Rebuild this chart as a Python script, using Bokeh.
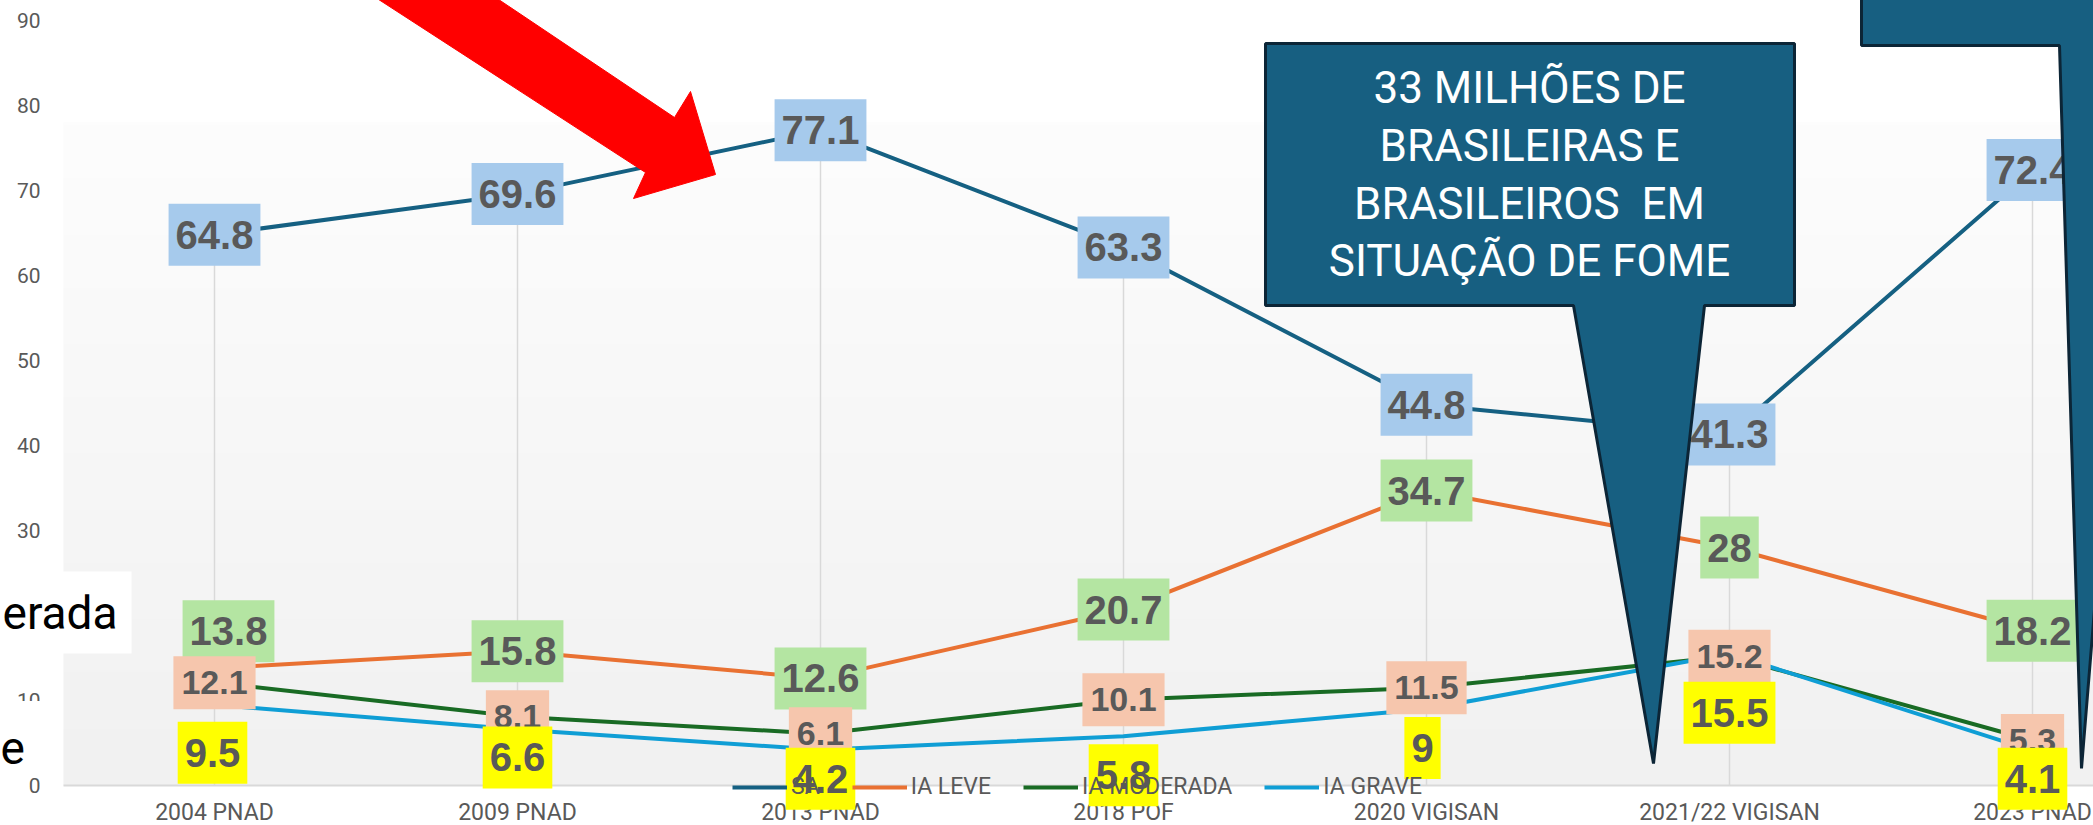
import numpy as np
from bokeh.plotting import figure, ColumnDataSource
from bokeh.models import Range1d
from bokeh.core.properties import value
from bokeh.embed import file_html
from bokeh.resources import INLINE

# ---------------- data ----------------
categories = ["2004 PNAD", "2009 PNAD", "2013 PNAD", "2018 POF",
              "2020 VIGISAN", "2021/22 VIGISAN", "2023 PNAD"]
sa = [64.8, 69.6, 77.1, 63.3, 44.8, 41.3, 72.4]
ia_leve = [13.8, 15.8, 12.6, 20.7, 34.7, 28, 18.2]
ia_moderada = [12.1, 8.1, 6.1, 10.1, 11.5, 15.2, 5.3]
ia_grave = [9.5, 6.6, 4.2, 5.8, 9, 15.5, 4.1]
y_ticks = [0, 10, 20, 30, 40, 50, 60, 70, 80, 90]
series_names = ["SA", "IA LEVE", "IA MODERADA", "IA GRAVE"]
callout_lines = ["33 MILHÕES DE", "BRASILEIRAS E", "BRASILEIROS\u00a0\u00a0EM", "SITUAÇÃO DE FOME"]

# label nudges (screen px) as placed in the original slide
leve_dx = [14, 0, 0, 0, 0, 0, 0]
leve_dy = [-37, 0, 0, 0, 0, 0, 0]
grave_dx = [-2, 0, 0, 0, -4, 0, 0]
grave_dy = [48, 28, 29, 39, 39, 59, 28]

# ---------------- styling ----------------
C_SA, C_LEVE, C_MOD, C_GRAVE = "#156082", "#E97132", "#196B24", "#0F9ED5"
B_SA, B_LEVE, B_MOD, B_GRAVE = "#A6CAEC", "#B4E5A2", "#F6C6AD", "#FFFF00"
TXT = "#595959"
FONT = "Roboto"

W, H = 2093, 825

# page pixel -> data helpers (for decorations only)
def dx(xf):
    return (xf - 214) / 303.0

def dy(yf):
    return (785 - yf) / 8.5

p = figure(width=W, height=H, output_backend="svg", toolbar_location=None,
           x_range=Range1d(dx(0), dx(W)), y_range=Range1d(dy(H), dy(0)),
           x_axis_location=None, y_axis_location=None, min_border=0,
           outline_line_color=None, background_fill_color="white",
           border_fill_color="white")
p.grid.visible = False

# plot-area gradient background
n = 200
t = np.linspace(0, 1, n)[:, None]
top = np.array([253, 253, 253]); bot = np.array([241, 241, 241])
rgb = (bot + (top - bot) * t).astype(np.uint8)  # row 0 = bottom
img = np.empty((n, 1), dtype=np.uint32)
view = img.view(dtype=np.uint8).reshape((n, 1, 4))
view[:, 0, 0] = rgb[:, 0]; view[:, 0, 1] = rgb[:, 1]; view[:, 0, 2] = rgb[:, 2]; view[:, 0, 3] = 255
p.image_rgba(image=[img], x=dx(63), y=0, dw=dx(2120) - dx(63), dh=dy(122), level="image")

idx = list(range(len(categories)))

# value axis tick labels (drawn through the y scale)
p.text(x=[dx(40)] * len(y_ticks), y=y_ticks, text=[str(v) for v in y_ticks],
       text_font=value(FONT), text_font_size="21px", text_color=TXT,
       text_align="right", text_baseline="middle")

# category axis line
p.segment(x0=[dx(63)], y0=[0], x1=[dx(2120)], y1=[0], line_color="#D9D9D9", line_width=2)

# drop lines
p.segment(x0=idx, y0=[0] * len(idx), x1=idx, y1=sa, line_color="#D9D9D9", line_width=1.5)

# series lines
p.line(idx, sa, line_color=C_SA, line_width=4, legend_label=series_names[0])
p.line(idx, ia_leve, line_color=C_LEVE, line_width=4, legend_label=series_names[1])
p.line(idx, ia_moderada, line_color=C_MOD, line_width=4, legend_label=series_names[2])
p.line(idx, ia_grave, line_color=C_GRAVE, line_width=4, legend_label=series_names[3])

lg = p.legend[0]
lg.orientation = "horizontal"
lg.location = (732, 25)
lg.background_fill_alpha = 0
lg.border_line_color = None
lg.padding = 0
lg.margin = 0
lg.spacing = 32
lg.label_standoff = 4
lg.glyph_width = 55
lg.glyph_height = 24
lg.label_height = 24
lg.label_text_font = FONT
lg.label_text_font_size = "23px"
lg.label_text_color = TXT

def fmt(v):
    return f"{v:g}"

def labels(vals, fill, size, pad, xo=None, yo=None):
    src = ColumnDataSource(dict(x=idx, y=vals, t=[fmt(v) for v in vals],
                                xo=xo or [0] * len(vals), yo=yo or [0] * len(vals)))
    p.text(x="x", y="y", text="t", source=src, x_offset="xo", y_offset="yo",
           text_font=value("Liberation Sans"), text_font_style="bold",
           text_font_size=size, text_color=TXT, text_align="center",
           text_baseline="middle", background_fill_color=fill,
           padding=pad, level="overlay")

P_MAIN = dict(left=7, right=7, top=17, bottom=17)
P_MOD = dict(left=8, right=8, top=15, bottom=15)
labels(sa, B_SA, "40px", P_MAIN)
labels(ia_leve, B_LEVE, "40px", P_MAIN, leve_dx, leve_dy)
labels(ia_moderada, B_MOD, "34px", P_MOD)
labels(ia_grave, B_GRAVE, "40px", P_MAIN, grave_dx, grave_dy)

# category labels (through the x scale)
p.text(x=idx, y=[dy(812)] * len(idx), text=categories, text_font=value(FONT),
       text_font_size="23px", text_color=TXT, text_align="center", text_baseline="middle")

# red arrow
arrow = [(318, -40), (645, 172), (633, 198), (715, 174), (690, 91), (674, 117), (440, -40)]
p.patch([dx(a) for a, b in arrow], [dy(b) for a, b in arrow], fill_color="#FF0000",
        line_color="#FF0000", line_width=1, level="overlay")

# callouts
c1 = [(1265, 43), (1794, 43), (1794, 305), (1704, 305), (1653, 763), (1573, 305), (1265, 305)]
c2 = [(1861, -30), (2200, -30), (2200, 45), (2140, 45), (2081, 768), (2059, 45), (1861, 45)]
for c in (c1, c2):
    p.patch([dx(a) for a, b in c], [dy(b) for a, b in c], fill_color="#175F81",
            line_color="#0C2536", line_width=3, level="overlay")

p.text(x=[dx(1529)] * 4, y=[dy(87), dy(145), dy(203), dy(260)], text=callout_lines,
       text_font=value(FONT), text_font_size="44px", text_color="white",
       text_align="center", text_baseline="middle", level="overlay")

# cut-off slide texts at the left edge
p.text(x=[dx(1)], y=[dy(612)], text=["erada"], text_font=value(FONT), text_font_size="46px",
       text_color="black", text_align="left", text_baseline="middle",
       background_fill_color="white", padding=dict(left=1, right=14, top=14, bottom=14),
       level="overlay")
p.text(x=[dx(0)], y=[dy(738)], text=["e"], text_font=value(FONT), text_font_size="46px",
       text_color="black", text_align="left", text_baseline="middle",
       background_fill_color="white", padding=dict(left=0, right=32, top=30, bottom=12),
       level="overlay")

open("out.html", "w").write(file_html(p, INLINE))
